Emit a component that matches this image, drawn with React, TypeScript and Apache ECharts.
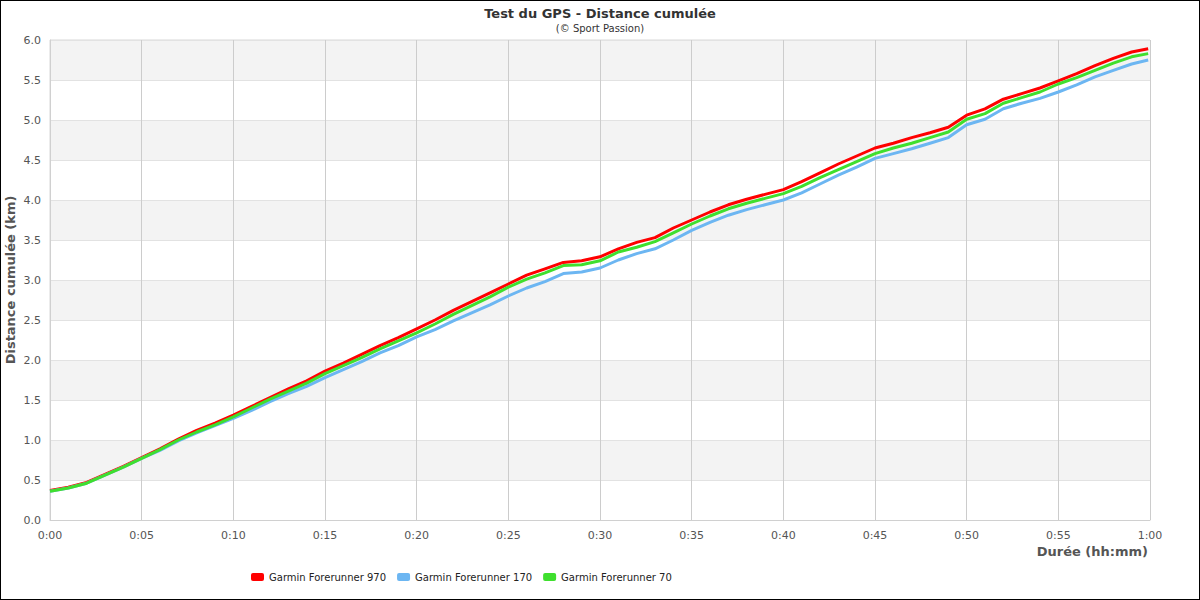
import React, { useEffect, useRef } from "react";
import * as echarts from "echarts";

const minutes = [0, 1, 2, 3, 4, 5, 6, 7, 8, 9, 10, 11, 12, 13, 14, 15, 16, 17, 18, 19, 20, 21, 22, 23, 24, 25, 26, 27, 28, 29, 30, 31, 32, 33, 34, 35, 36, 37, 38, 39, 40, 41, 42, 43, 44, 45, 46, 47, 48, 49, 50, 51, 52, 53, 54, 55, 56, 57, 58, 59, 59.9];

const fr970 = [0.37, 0.41, 0.47, 0.57, 0.67, 0.78, 0.89, 1.01, 1.12, 1.21, 1.31, 1.42, 1.53, 1.64, 1.74, 1.86, 1.96, 2.07, 2.18, 2.28, 2.39, 2.50, 2.62, 2.73, 2.84, 2.95, 3.06, 3.14, 3.22, 3.24, 3.29, 3.39, 3.47, 3.53, 3.65, 3.75, 3.85, 3.94, 4.01, 4.07, 4.13, 4.23, 4.34, 4.45, 4.55, 4.65, 4.71, 4.78, 4.84, 4.91, 5.06, 5.14, 5.26, 5.33, 5.40, 5.49, 5.58, 5.68, 5.77, 5.85, 5.89];

const fr170 = [0.36, 0.40, 0.46, 0.56, 0.66, 0.77, 0.87, 0.99, 1.09, 1.18, 1.27, 1.37, 1.48, 1.58, 1.67, 1.78, 1.88, 1.98, 2.09, 2.18, 2.29, 2.38, 2.49, 2.59, 2.69, 2.80, 2.90, 2.98, 3.08, 3.10, 3.15, 3.25, 3.33, 3.39, 3.50, 3.62, 3.72, 3.81, 3.88, 3.94, 4.00, 4.09, 4.20, 4.31, 4.41, 4.52, 4.58, 4.64, 4.71, 4.78, 4.94, 5.01, 5.14, 5.21, 5.27, 5.35, 5.44, 5.54, 5.62, 5.70, 5.75];

const fr70 = [0.36, 0.40, 0.46, 0.56, 0.66, 0.77, 0.88, 1.00, 1.10, 1.19, 1.29, 1.40, 1.51, 1.61, 1.71, 1.83, 1.93, 2.03, 2.14, 2.24, 2.34, 2.45, 2.57, 2.68, 2.79, 2.91, 3.01, 3.09, 3.18, 3.19, 3.24, 3.35, 3.41, 3.48, 3.59, 3.70, 3.80, 3.89, 3.96, 4.02, 4.08, 4.17, 4.28, 4.38, 4.48, 4.58, 4.65, 4.71, 4.78, 4.85, 5.01, 5.08, 5.21, 5.28, 5.35, 5.45, 5.53, 5.62, 5.71, 5.79, 5.83];

const seriesNames = ["Garmin Forerunner 970", "Garmin Forerunner 170", "Garmin Forerunner 70"];
const seriesColors = ["#ff0000", "#6cb6f2", "#3fdf2e"];
const seriesValues = [fr970, fr170, fr70];

const FONT = "DejaVu Sans";

function fmtTime(v: number) {
  const h = Math.floor(v / 60);
  const m = Math.round(v - h * 60);
  return h + ":" + (m < 10 ? "0" + m : String(m));
}

export default function App() {
  const ref = useRef<HTMLDivElement>(null);
  useEffect(() => {
    if (!ref.current) return;
    const chart = echarts.init(ref.current, undefined, { renderer: "svg" });
    chart.setOption({
      animation: false,
      backgroundColor: "#ffffff",
      textStyle: { fontFamily: FONT },
      title: {
        text: "Test du GPS - Distance cumulée",
        subtext: "(© Sport Passion)",
        left: "center",
        top: 2,
        itemGap: 3,
        textStyle: { fontFamily: FONT, fontSize: 13, fontWeight: "bold", color: "#333" },
        subtextStyle: { fontFamily: FONT, fontSize: 10, color: "#333" },
      },
      legend: {
        left: 246,
        top: 567,
        itemWidth: 13,
        itemHeight: 8,
        itemGap: 11,
        icon: "roundRect",
        textStyle: { fontFamily: FONT, fontSize: 10, color: "#222" },
        data: seriesNames,
      },
      grid: {
        left: 50,
        right: 50,
        top: 40,
        bottom: 80,
        containLabel: false,
        outerBoundsMode: "none",
        show: true,
        borderColor: "#d8d8d8",
        borderWidth: 1,
        backgroundColor: "transparent",
      },
      xAxis: {
        type: "value",
        min: 0,
        max: 60,
        interval: 5,
        name: "Durée (hh:mm)",
        nameLocation: "end",
        nameGap: -2,
        nameMoveOverlap: false,
        nameTextStyle: {
          fontFamily: FONT,
          fontSize: 13,
          fontWeight: "bold",
          color: "#555",
          align: "right",
          verticalAlign: "top",
          padding: [25, 0, 0, 0],
        },
        axisLine: { show: true, lineStyle: { color: "#d0d0d0" } },
        axisTick: { show: false },
        axisLabel: {
          fontFamily: FONT,
          fontSize: 11,
          color: "#555",
          margin: 10,
          formatter: (v: number) => fmtTime(v),
        },
        splitLine: { show: true, lineStyle: { color: "#cccccc", width: 1 } },
      },
      yAxis: {
        type: "value",
        min: 0,
        max: 6,
        interval: 0.5,
        name: "Distance cumulée (km)",
        nameLocation: "middle",
        nameGap: 33,
        nameMoveOverlap: false,
        nameTextStyle: { fontFamily: FONT, fontSize: 13, fontWeight: "bold", color: "#555" },
        axisLine: { show: true, lineStyle: { color: "#d0d0d0" } },
        axisTick: { show: false },
        axisLabel: {
          fontFamily: FONT,
          fontSize: 11,
          color: "#555",
          margin: 9,
          formatter: (v: number) => v.toFixed(1),
        },
        splitLine: { show: true, lineStyle: { color: "#e2e2e2", width: 1 } },
        splitArea: { show: true, areaStyle: { color: ["#ffffff", "#f3f3f3"] } },
      },
      series: seriesNames.map((name, i) => ({
        name,
        type: "line",
        data: minutes.map((m, j) => [m, seriesValues[i][j]]),
        showSymbol: false,
        symbol: "none",
        smooth: false,
        lineStyle: { width: 3, color: seriesColors[i] },
        itemStyle: { color: seriesColors[i] },
      })),
    });
    return () => chart.dispose();
  }, []);
  return (
    <div style={{ position: "absolute", left: 0, top: 0, width: 1200, height: 600, background: "#fff" }}>
      <div ref={ref} style={{ position: "absolute", left: 0, top: 0, width: 1200, height: 600 }} />
      <div
        style={{
          position: "absolute",
          left: 0,
          top: 0,
          width: 1200,
          height: 600,
          boxSizing: "border-box",
          border: "1px solid #000",
          pointerEvents: "none",
        }}
      />
    </div>
  );
}
